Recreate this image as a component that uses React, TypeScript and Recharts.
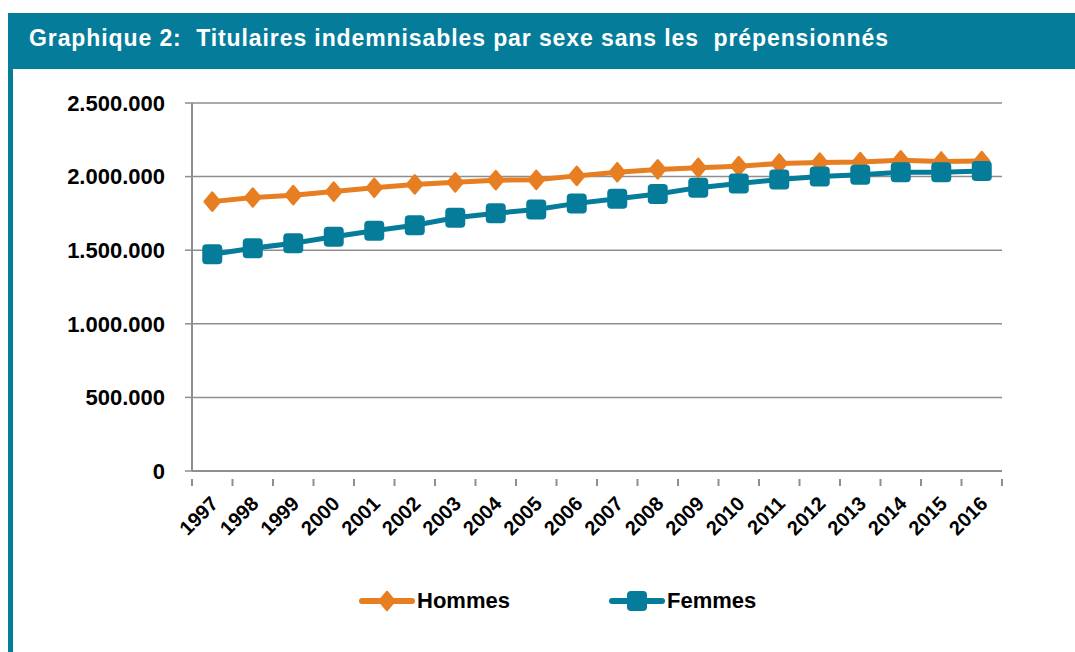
import { LineChart, Line, XAxis, YAxis, CartesianGrid, Legend } from "recharts";

const YEARS = [1997, 1998, 1999, 2000, 2001, 2002, 2003, 2004, 2005, 2006, 2007, 2008, 2009, 2010, 2011, 2012, 2013, 2014, 2015, 2016];
const HOMMES = [1830000, 1858000, 1874000, 1898000, 1924000, 1947000, 1961000, 1976000, 1978000, 2005000, 2030000, 2049000, 2060000, 2071000, 2089000, 2096000, 2099000, 2111000, 2103000, 2106000];
const FEMMES = [1472000, 1513000, 1547000, 1592000, 1632000, 1669000, 1720000, 1751000, 1777000, 1818000, 1850000, 1882000, 1925000, 1953000, 1981000, 2000000, 2012000, 2029000, 2030000, 2038000];
const Y_TICKS = [0, 500000, 1000000, 1500000, 2000000, 2500000];

const ORANGE = "#E87E22";
const TEAL = "#067C9B";
const GRID = "#8E8E8E";
const FONT = "'Liberation Sans', Arial, Helvetica, sans-serif";

const data = YEARS.map((y, i) => ({ year: y, hommes: HOMMES[i], femmes: FEMMES[i] }));
// ticks at year centres (labels) and at the band edges (tick marks), Excel style
const X_TICKS = [...YEARS.map((y) => y - 0.5), YEARS[YEARS.length - 1] + 0.5, ...YEARS].sort((a, b) => a - b);

const fmt = (v: number) => String(v).replace(/\B(?=(\d{3})+(?!\d))/g, ".");

const Diamond = ({ cx, cy, fill }: { cx?: number; cy?: number; fill: string }) => {
  if (cx == null || cy == null) return null;
  return (
    <path d={`M${cx},${cy - 9} L${cx + 7.5},${cy} L${cx},${cy + 9} L${cx - 7.5},${cy} Z`}
      fill={fill} stroke={fill} strokeWidth={2.5} strokeLinejoin="round" />
  );
};

const Square = ({ cx, cy, fill }: { cx?: number; cy?: number; fill: string }) => {
  if (cx == null || cy == null) return null;
  return <rect x={cx - 10} y={cy - 10} width={20} height={20} rx={4} fill={fill} />;
};

const XTick = ({ x, y, payload }: { x?: number; y?: number; payload?: { value: number } }) => {
  if (x == null || y == null || !payload) return null;
  const v = payload.value;
  if (!Number.isInteger(v)) {
    return <line x1={x} x2={x} y1={y} y2={y + 7} stroke={GRID} strokeWidth={2} />;
  }
  return (
    <text x={x + 7} y={y + 26} transform={`rotate(-45 ${x + 7} ${y + 26})`} textAnchor="end"
      fontFamily={FONT} fontWeight="bold" fontSize={20} fill="#000">
      {v}
    </text>
  );
};

const LegendContent = () => (
  <div style={{ position: "relative", fontFamily: FONT, fontWeight: "bold", fontSize: 22, color: "#000" }}>
    {[{ label: "Hommes", color: ORANGE, left: 358, square: false }, { label: "Femmes", color: TEAL, left: 608, square: true }].map((l) => (
      <div key={l.label} style={{ position: "absolute", left: l.left, top: 0, display: "flex", alignItems: "center", height: 24 }}>
        <svg width={58} height={24}>
          <line x1={4} x2={54} y1={12} y2={12} stroke={l.color} strokeWidth={6} strokeLinecap="round" />
          {l.square ? <Square cx={29} cy={12} fill={l.color} /> : <Diamond cx={29} cy={12} fill={l.color} />}
        </svg>
        <span style={{ marginLeft: 1 }}>{l.label}</span>
      </div>
    ))}
  </div>
);

export default function App() {
  return (
    <div style={{ position: "absolute", left: 0, top: 0, width: 1075, height: 652, background: "#fff", overflow: "hidden" }}>
      <div style={{ position: "absolute", left: 8, top: 13, width: 5, height: 639, background: TEAL }} />
      <div style={{
        position: "absolute", left: 8, top: 13, width: 1067, height: 56, background: TEAL, color: "#fff",
        fontFamily: FONT, fontWeight: "bold", fontSize: 23, letterSpacing: 0.9, lineHeight: "50px", whiteSpace: "pre", paddingLeft: 21, boxSizing: "border-box",
      }}>
        {"Graphique 2:  Titulaires indemnisables par sexe sans les  prépensionnés"}
      </div>
      <div style={{ position: "absolute", left: 0, top: 0 }}>
        <LineChart width={1075} height={652} data={data} margin={{ top: 103, right: 73, bottom: 111, left: 12 }}>
          <CartesianGrid vertical={false} stroke={GRID} strokeWidth={1.5} />
          <XAxis dataKey="year" type="number" domain={[1996.5, 2016.5]} ticks={X_TICKS} interval={0}
            tick={<XTick />} tickLine={false} axisLine={{ stroke: GRID, strokeWidth: 2 }} height={70} />
          <YAxis width={180} domain={[0, 2500000]} ticks={Y_TICKS} tickFormatter={fmt} interval={0}
            tickSize={7} tickMargin={20} tickLine={{ stroke: GRID, strokeWidth: 1.5 }} axisLine={{ stroke: GRID, strokeWidth: 2 }}
            tick={{ fontFamily: FONT, fontWeight: "bold", fontSize: 22, fill: "#000" }} />
          <Legend verticalAlign="middle" layout="horizontal" content={<LegendContent />}
            wrapperStyle={{ position: "absolute", top: 589, left: 0, width: 1075, height: 24 }} />
          <Line dataKey="hommes" stroke={ORANGE} strokeWidth={5} isAnimationActive={false}
            dot={(p: any) => <Diamond key={`h${p.index}`} cx={p.cx} cy={p.cy} fill={ORANGE} />} activeDot={false} />
          <Line dataKey="femmes" stroke={TEAL} strokeWidth={5} isAnimationActive={false}
            dot={(p: any) => <Square key={`f${p.index}`} cx={p.cx} cy={p.cy} fill={TEAL} />} activeDot={false} />
        </LineChart>
      </div>
    </div>
  );
}
